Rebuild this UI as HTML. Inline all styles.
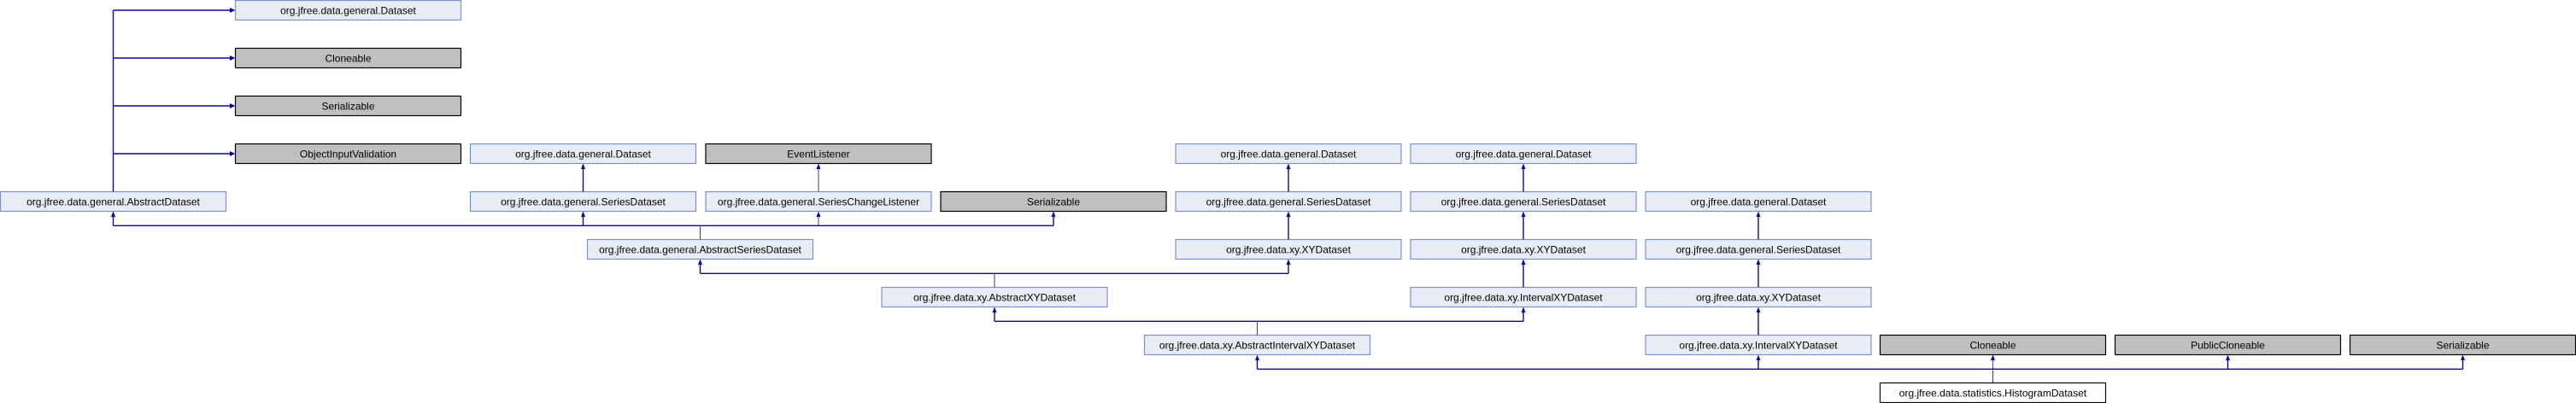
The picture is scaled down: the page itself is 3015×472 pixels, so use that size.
<!DOCTYPE html>
<html><head><meta charset="utf-8"><style>
html,body{margin:0;padding:0;background:#fff;}
svg{display:block;}
text{font-family:"Liberation Sans",sans-serif;font-size:12px;fill:#000;}
.b{fill:#e8ecf5;stroke:#7a93c8;stroke-width:1.2;}
.g{fill:#bfbfbf;stroke:#000;stroke-width:1.2;}
.w{fill:#fff;stroke:#000;stroke-width:1.2;}
.l{stroke:#0a0a9a;stroke-width:1.4;fill:none;}
.t{stroke:#0a0a9a;stroke-width:0.8;fill:none;}
.a{fill:#0a0a9a;}
</style></head><body>
<svg width="3015" height="472" viewBox="0 0 3015 472" xmlns="http://www.w3.org/2000/svg">
<!-- boxes -->
<g id="boxes">
<rect class="b" x="275.5" y="0.5" width="264" height="23"/><text x="407.5" y="16.5" text-anchor="middle">org.jfree.data.general.Dataset</text>
<rect class="g" x="275.5" y="56.5" width="264" height="23"/><text x="407.5" y="72.5" text-anchor="middle">Cloneable</text>
<rect class="g" x="275.5" y="112.5" width="264" height="23"/><text x="407.5" y="128.5" text-anchor="middle">Serializable</text>
<rect class="g" x="275.5" y="168.5" width="264" height="23"/><text x="407.5" y="184.5" text-anchor="middle">ObjectInputValidation</text>
<rect class="b" x="0.5" y="224.5" width="264" height="23"/><text x="132.5" y="240.5" text-anchor="middle">org.jfree.data.general.AbstractDataset</text>

<rect class="b" x="550.5" y="168.5" width="264" height="23"/><text x="682.5" y="184.5" text-anchor="middle">org.jfree.data.general.Dataset</text>
<rect class="b" x="550.5" y="224.5" width="264" height="23"/><text x="682.5" y="240.5" text-anchor="middle">org.jfree.data.general.SeriesDataset</text>
<rect class="g" x="826" y="168.5" width="264" height="23"/><text x="958" y="184.5" text-anchor="middle">EventListener</text>
<rect class="b" x="826" y="224.5" width="264" height="23"/><text x="958" y="240.5" text-anchor="middle">org.jfree.data.general.SeriesChangeListener</text>
<rect class="g" x="1101" y="224.5" width="264" height="23"/><text x="1233" y="240.5" text-anchor="middle">Serializable</text>
<rect class="b" x="687.5" y="280.5" width="264" height="23"/><text x="819.5" y="296.5" text-anchor="middle">org.jfree.data.general.AbstractSeriesDataset</text>

<rect class="b" x="1376" y="168.5" width="264" height="23"/><text x="1508" y="184.5" text-anchor="middle">org.jfree.data.general.Dataset</text>
<rect class="b" x="1376" y="224.5" width="264" height="23"/><text x="1508" y="240.5" text-anchor="middle">org.jfree.data.general.SeriesDataset</text>
<rect class="b" x="1376" y="280.5" width="264" height="23"/><text x="1508" y="296.5" text-anchor="middle">org.jfree.data.xy.XYDataset</text>

<rect class="b" x="1651" y="168.5" width="264" height="23"/><text x="1783" y="184.5" text-anchor="middle">org.jfree.data.general.Dataset</text>
<rect class="b" x="1651" y="224.5" width="264" height="23"/><text x="1783" y="240.5" text-anchor="middle">org.jfree.data.general.SeriesDataset</text>
<rect class="b" x="1651" y="280.5" width="264" height="23"/><text x="1783" y="296.5" text-anchor="middle">org.jfree.data.xy.XYDataset</text>
<rect class="b" x="1651" y="336.5" width="264" height="23"/><text x="1783" y="352.5" text-anchor="middle">org.jfree.data.xy.IntervalXYDataset</text>

<rect class="b" x="1926" y="224.5" width="264" height="23"/><text x="2058" y="240.5" text-anchor="middle">org.jfree.data.general.Dataset</text>
<rect class="b" x="1926" y="280.5" width="264" height="23"/><text x="2058" y="296.5" text-anchor="middle">org.jfree.data.general.SeriesDataset</text>
<rect class="b" x="1926" y="336.5" width="264" height="23"/><text x="2058" y="352.5" text-anchor="middle">org.jfree.data.xy.XYDataset</text>
<rect class="b" x="1926" y="392.5" width="264" height="23"/><text x="2058" y="408.5" text-anchor="middle">org.jfree.data.xy.IntervalXYDataset</text>

<rect class="b" x="1032" y="336.5" width="264" height="23"/><text x="1164" y="352.5" text-anchor="middle">org.jfree.data.xy.AbstractXYDataset</text>
<rect class="b" x="1339.5" y="392.5" width="264" height="23"/><text x="1471.5" y="408.5" text-anchor="middle">org.jfree.data.xy.AbstractIntervalXYDataset</text>

<rect class="g" x="2200.5" y="392.5" width="264" height="23"/><text x="2332.5" y="408.5" text-anchor="middle">Cloneable</text>
<rect class="g" x="2475.5" y="392.5" width="264" height="23"/><text x="2607.5" y="408.5" text-anchor="middle">PublicCloneable</text>
<rect class="g" x="2750.5" y="392.5" width="264" height="23"/><text x="2882.5" y="408.5" text-anchor="middle">Serializable</text>
<rect class="w" x="2200.5" y="448.5" width="264" height="23"/><text x="2332.5" y="464.5" text-anchor="middle">org.jfree.data.statistics.HistogramDataset</text>
</g>
<!-- lines -->
<path class="l" d="M132.5 224.5 V12 M132.5 12 H270 M132.5 68 H270 M132.5 124 H270 M132.5 180 H270"/>
<polygon class="a" points="275.5,12 269,9 269,15"/>
<polygon class="a" points="275.5,68 269,65 269,71"/>
<polygon class="a" points="275.5,124 269,121 269,127"/>
<polygon class="a" points="275.5,180 269,177 269,183"/>

<path class="l" d="M682.5 224.5 V197"/><polygon class="a" points="682.5,191.5 680,198 685,198"/>
<path class="t" d="M958 224.5 V197"/><polygon class="a" points="958,191.5 955.5,198 960.5,198"/>

<path class="t" d="M819.5 280.5 V264.3"/>
<path class="l" d="M132.5 264.3 H1233 M132.5 264.3 V253 M682.5 264.3 V253 M1233 264.3 V253"/>
<path class="t" d="M958 264.3 V253"/>
<polygon class="a" points="132.5,247.5 130,254 135,254"/>
<polygon class="a" points="682.5,247.5 680,254 685,254"/>
<polygon class="a" points="958,247.5 955.5,254 960.5,254"/>
<polygon class="a" points="1233,247.5 1230.5,254 1235.5,254"/>

<path class="t" d="M1164 336.5 V320.3"/>
<path class="l" d="M819.5 320.3 H1508 M819.5 320.3 V309 M1508 320.3 V309"/>
<polygon class="a" points="819.5,303.5 817,310 822,310"/>
<polygon class="a" points="1508,303.5 1505.5,310 1510.5,310"/>

<path class="l" d="M1508 280.5 V253 M1508 224.5 V197"/>
<polygon class="a" points="1508,247.5 1505.5,254 1510.5,254"/>
<polygon class="a" points="1508,191.5 1505.5,198 1510.5,198"/>

<path class="l" d="M1783 336.5 V309 M1783 280.5 V253 M1783 224.5 V197"/>
<polygon class="a" points="1783,303.5 1780.5,310 1785.5,310"/>
<polygon class="a" points="1783,247.5 1780.5,254 1785.5,254"/>
<polygon class="a" points="1783,191.5 1780.5,198 1785.5,198"/>

<path class="t" d="M1471.5 392.5 V376.3"/>
<path class="l" d="M1164 376.3 H1783 M1164 376.3 V365 M1783 376.3 V365"/>
<polygon class="a" points="1164,359.5 1161.5,366 1166.5,366"/>
<polygon class="a" points="1783,359.5 1780.5,366 1785.5,366"/>

<path class="l" d="M2058 392.5 V365 M2058 336.5 V309 M2058 280.5 V253"/>
<polygon class="a" points="2058,359.5 2055.5,366 2060.5,366"/>
<polygon class="a" points="2058,303.5 2055.5,310 2060.5,310"/>
<polygon class="a" points="2058,247.5 2055.5,254 2060.5,254"/>

<path class="t" d="M2332.5 448.5 V432.3"/>
<path class="l" d="M1471.5 432.3 H2882.5 M1471.5 432.3 V421 M2058 432.3 V421 M2607.5 432.3 V421 M2882.5 432.3 V421"/>
<path class="t" d="M2332.5 432.3 V421"/>
<polygon class="a" points="1471.5,415.5 1469,422 1474,422"/>
<polygon class="a" points="2058,415.5 2055.5,422 2060.5,422"/>
<polygon class="a" points="2332.5,415.5 2330,422 2335,422"/>
<polygon class="a" points="2607.5,415.5 2605,422 2610,422"/>
<polygon class="a" points="2882.5,415.5 2880,422 2885,422"/>
</svg>
</body></html>
